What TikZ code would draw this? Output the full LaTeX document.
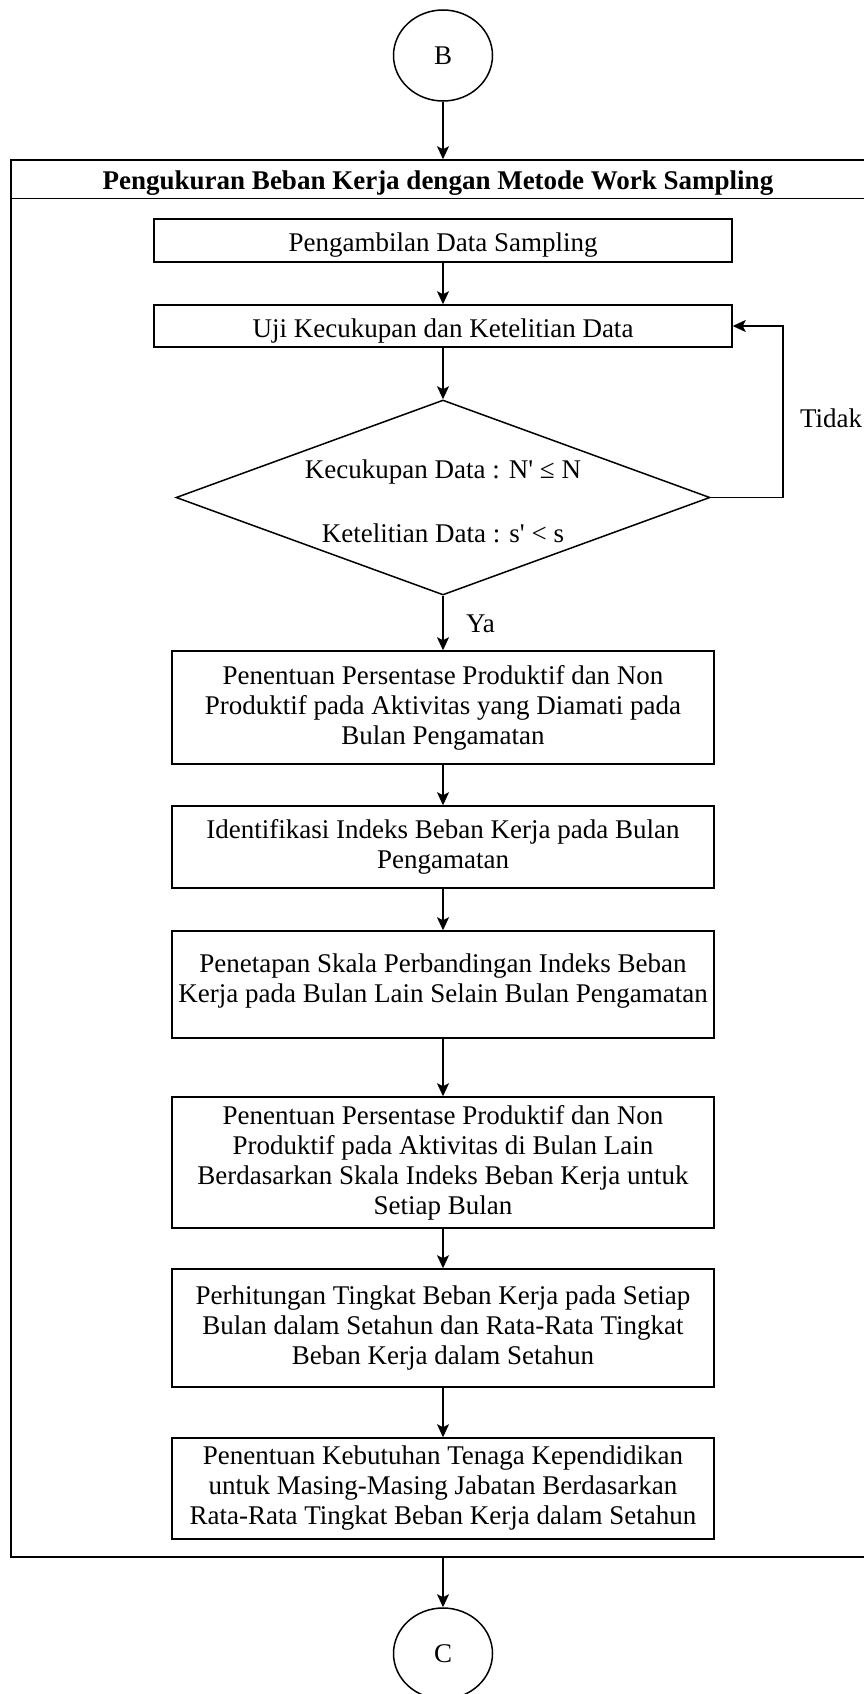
\documentclass[tikz,border=0pt]{standalone}
\usepackage{fontspec}
\newfontfamily\tnr{Liberation Serif}
\usetikzlibrary{arrows.meta,shapes.geometric}
\begin{document}
\begin{tikzpicture}[x=1pt,y=-1pt,
  line width=1.5pt,
  txt/.style={font=\tnr\fontsize{27}{30}\selectfont, align=center},
  procbox/.style={draw, rectangle, inner sep=0pt, txt, execute at begin node={\rule{0pt}{#1}}},
  procbox/.default=28pt,
  conn/.style={draw, line width=1.5pt, -{Stealth[length=13pt,width=12pt,inset=3pt]}},
  term/.style={draw, ellipse, minimum width=99pt, minimum height=91pt, inner sep=0pt, txt}]
\useasboundingbox (0,0) rectangle (864,1694);

\node[term] (B) at (443,55.5) {B};
\node[draw, rectangle, inner sep=0pt, minimum width=879pt, minimum height=1397pt] (cont) at (450.5,858.5) {};
\draw ([yshift=-39pt]cont.north west) -- ([yshift=-39pt]cont.north east);
\node[txt, font=\tnr\bfseries\fontsize{27}{30}\selectfont] (hdr) at (438,183) {Pengukuran Beban Kerja dengan Metode Work Sampling};

\node[procbox, minimum width=578pt, minimum height=43pt] (b1) at (443,240.5) {Pengambilan Data Sampling};
\node[procbox, minimum width=578pt, minimum height=42pt] (b2) at (443,326) {Uji Kecukupan dan Ketelitian Data};
\node[draw, diamond, inner sep=0pt, minimum width=534pt, minimum height=195pt] (d) at (443,497.5) {};
\node[txt] (dtxt) at (443,501) {Kecukupan Data : N' ≤ N\\[34pt]Ketelitian Data : s' < s};

\node[procbox=38pt, minimum width=542pt, minimum height=113pt] (b3) at (443,707.5) {Penentuan Persentase Produktif dan Non\\Produktif pada Aktivitas yang Diamati pada\\Bulan Pengamatan};
\node[procbox, minimum width=542pt, minimum height=82pt] (b4) at (443,847) {Identifikasi Indeks Beban Kerja pada Bulan\\Pengamatan};
\node[procbox=0pt, minimum width=542pt, minimum height=107pt] (b5) at (443,984.5) {Penetapan Skala Perbandingan Indeks Beban\\Kerja pada Bulan Lain Selain Bulan Pengamatan\rule[-13pt]{0pt}{13pt}};
\node[procbox=40pt, minimum width=542pt, minimum height=131pt] (b6) at (443,1162.5) {Penentuan Persentase Produktif dan Non\\Produktif pada Aktivitas di Bulan Lain\\Berdasarkan Skala Indeks Beban Kerja untuk\\Setiap Bulan};
\node[procbox, minimum width=542pt, minimum height=118pt] (b7) at (443,1328) {Perhitungan Tingkat Beban Kerja pada Setiap\\Bulan dalam Setahun dan Rata-Rata Tingkat\\Beban Kerja dalam Setahun};
\node[procbox=36pt, minimum width=542pt, minimum height=101pt] (b8) at (443,1488.5) {Penentuan Kebutuhan Tenaga Kependidikan\\untuk Masing-Masing Jabatan Berdasarkan\\Rata-Rata Tingkat Beban Kerja dalam Setahun};

\node[term] (C) at (443,1653.5) {C};

\node[txt, anchor=west] (ya) at (462,624) {Ya};
\node[txt, anchor=west] (tidak) at (796,418) {Tidak};

\draw[conn] (B) -- (B |- cont.north);
\draw[conn] (b1) -- (b2);
\draw[conn] (b2) -- (d);
\draw[conn] (d) -- (b3);
\draw[conn] (b3) -- (b4);
\draw[conn] (b4) -- (b5);
\draw[conn] (b5) -- (b6);
\draw[conn] (b6) -- (b7);
\draw[conn] (b7) -- (b8);
\draw[conn] (C |- cont.south) -- (C);
\draw[conn] (d.east) -| ([xshift=50pt]b2.east) -- (b2.east);
\end{tikzpicture}
\end{document}
